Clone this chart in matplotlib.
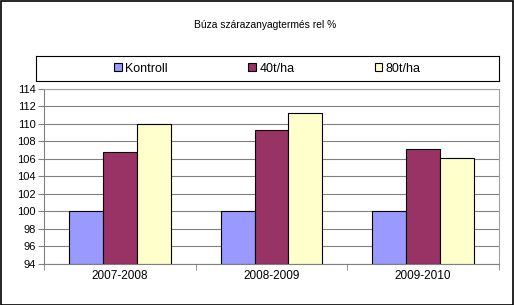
import matplotlib
matplotlib.use("Agg")
import matplotlib.pyplot as plt
import numpy as np
from matplotlib.patches import Rectangle

plt.rcParams['font.family'] = ['Liberation Sans', 'DejaVu Sans']

categories = ["2007-2008", "2008-2009", "2009-2010"]
series_names = ["Kontroll", "40t/ha", "80t/ha"]
kontroll = [100, 100, 100]
t40 = [106.8, 109.3, 107.1]
t80 = [110.0, 111.2, 106.1]
colors = ["#9999FF", "#993366", "#FFFFCC"]
yticks = list(range(94, 115, 2))

W, H = 514, 305
fig = plt.figure(figsize=(W/100, H/100), dpi=100)
fig.patches.append(Rectangle((0.5/W, 0.5/H), 1-1.5/W, 1-1.5/H, transform=fig.transFigure,
                             fill=False, edgecolor='black', linewidth=1.2))

ax = fig.add_axes([44/W, 1-263.5/H, (499-44)/W, (263.5-88.5)/H])
x = np.arange(len(categories))
bw = 0.224
for i, (vals, name) in enumerate(zip([kontroll, t40, t80], series_names)):
    ax.bar(x + (i-1)*bw, np.array(vals)-94, bottom=94, width=bw, color=colors[i],
           edgecolor='black', linewidth=0.8, label=name, zorder=3)

ax.set_xlim(-0.5, len(categories)-0.5)
ax.set_ylim(94, 114)
ax.set_yticks(yticks)
ax.set_yticklabels([str(v) for v in yticks], fontsize=8)
ax.yaxis.grid(True, color='#808080', linewidth=0.8, zorder=0)
ax.set_xticks(x)
ax.set_xticklabels(categories, fontsize=8.5)
ax.tick_params(axis='x', length=0, pad=5)
ax.set_xticks(np.arange(-0.5, len(categories), 1), minor=True)
ax.tick_params(axis='x', which='minor', length=4, color='#808080', direction='out')
ax.tick_params(axis='y', length=4, color='#808080', pad=2)
for s in ['top', 'right']:
    ax.spines[s].set_color('#A0A0A0')
    ax.spines[s].set_linewidth(0.8)
for s in ['left', 'bottom']:
    ax.spines[s].set_color('#808080')
    ax.spines[s].set_linewidth(0.8)

fig.text(265/W, 1-25/H, "Búza szárazanyagtermés rel %", ha='center', va='center', fontsize=7.4)

# legend box
lax = fig.add_axes([36/W, 1-81/H, (499-36)/W, (81-56)/H])
lax.set_xticks([]); lax.set_yticks([])
for s in lax.spines.values():
    s.set_color('black'); s.set_linewidth(0.8)
handles, labels = ax.get_legend_handles_labels()
leg = lax.legend(handles, labels, loc='center', ncol=3, frameon=False, fontsize=9,
                 handlelength=0.6, handleheight=0.6, handletextpad=0.3, columnspacing=6.4,
                 borderaxespad=0)

fig.savefig("out.png", dpi=100)
